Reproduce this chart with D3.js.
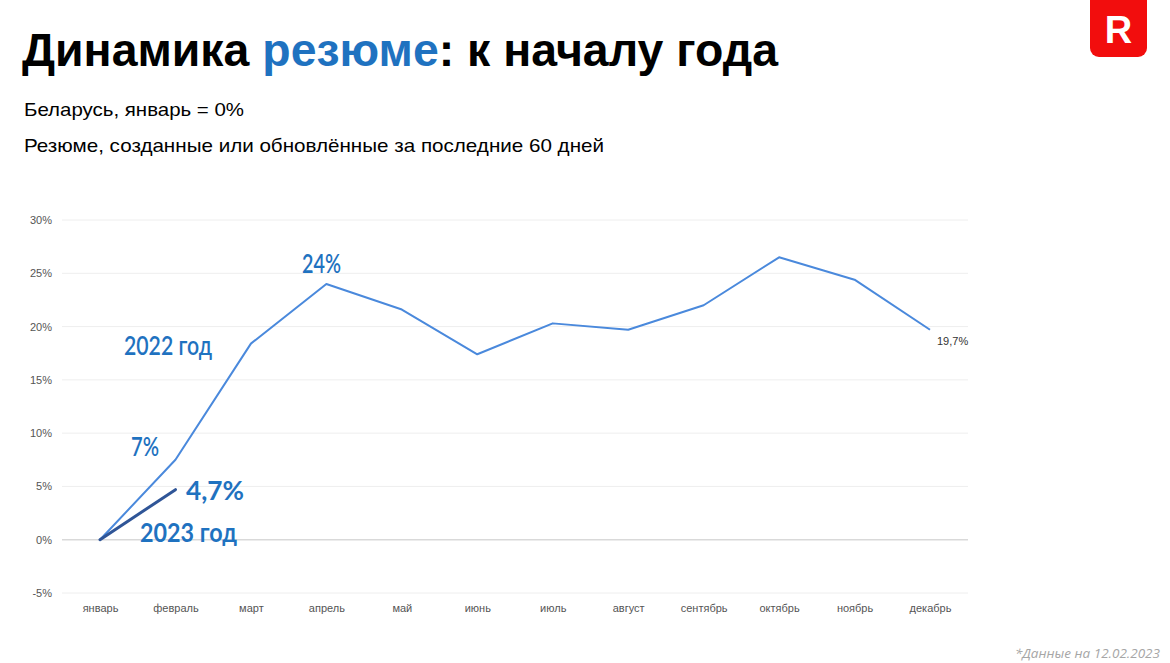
<!DOCTYPE html>
<html>
<head>
<meta charset="utf-8">
<script src="https://cdn.jsdelivr.net/npm/d3@7"></script>
<style>
  body { margin: 0; background: #fff; }
  svg { display: block; }
</style>
</head>
<body>
<div id="chart"></div>
<script>
// Данные
const months = ["январь","февраль","март","апрель","май","июнь","июль","август","сентябрь","октябрь","ноябрь","декабрь"];
const values2022 = [0, 7.5, 18.4, 24.0, 21.6, 17.4, 20.3, 19.7, 22.0, 26.5, 24.4, 19.7];
const values2023 = [0, 4.7];
const yTicks = [-5, 0, 5, 10, 15, 20, 25, 30];

const W = 1170, H = 663;
const svg = d3.select("#chart").append("svg").attr("width", W).attr("height", H);

const blue = "#1f72c0";
const fmtPct = v => v + "%";

// заголовок
const title = svg.append("text")
  .attr("x", 22).attr("y", 66)
  .attr("font-family", "Liberation Sans, Arial, sans-serif")
  .attr("font-weight", "bold").attr("font-size", 47)
  .attr("textLength", 756).attr("lengthAdjust", "spacingAndGlyphs");
title.append("tspan").attr("fill", "#000").text("Динамика ");
title.append("tspan").attr("fill", blue).text("резюме");
title.append("tspan").attr("fill", "#000").text(": к началу года");

svg.append("text").attr("x", 24).attr("y", 116)
  .attr("font-family", "Liberation Sans, Arial, sans-serif").attr("font-size", 19)
  .attr("textLength", 220).attr("lengthAdjust", "spacingAndGlyphs")
  .text("Беларусь, январь = 0%");
svg.append("text").attr("x", 24).attr("y", 152)
  .attr("font-family", "Liberation Sans, Arial, sans-serif").attr("font-size", 19)
  .attr("textLength", 580).attr("lengthAdjust", "spacingAndGlyphs")
  .text("Резюме, созданные или обновлённые за последние 60 дней");

// логотип
svg.append("rect").attr("x", 1090).attr("y", -8).attr("width", 57).attr("height", 65)
  .attr("rx", 9).attr("fill", "#f20d0d");
svg.append("text").attr("x", 1118.5).attr("y", 43).attr("text-anchor", "middle")
  .attr("font-family", "Liberation Sans, Arial, sans-serif").attr("font-weight", "bold")
  .attr("font-size", 38).attr("fill", "#fff").text("R");

// шкалы
const x = d3.scalePoint().domain(months).range([100, 930]);
const y = d3.scaleLinear().domain([-5, 30]).range([593, 220]);

// сетка
svg.append("g").selectAll("line").data(yTicks).join("line")
  .attr("x1", 62).attr("x2", 968)
  .attr("y1", d => y(d)).attr("y2", d => y(d))
  .attr("stroke", d => d === 0 ? "#d9d9d9" : "#eeeeee")
  .attr("stroke-width", d => d === 0 ? 1.5 : 1);

// ось y
svg.append("g")
  .attr("transform", "translate(52,0)")
  .call(d3.axisLeft(y).tickValues(yTicks).tickSize(0).tickPadding(0).tickFormat(fmtPct))
  .call(g => g.select(".domain").remove())
  .selectAll("text")
  .attr("font-family", "Liberation Sans, Arial, sans-serif")
  .attr("font-size", 11).attr("fill", "#555");

// ось x
svg.append("g")
  .attr("transform", "translate(0,597)")
  .call(d3.axisBottom(x).tickSize(0).tickPadding(7))
  .call(g => g.select(".domain").remove())
  .selectAll("text")
  .attr("font-family", "Liberation Sans, Arial, sans-serif")
  .attr("font-size", 11).attr("fill", "#555");

// линии
const line = d3.line().x((d, i) => x(months[i])).y(d => y(d));
svg.append("path").datum(values2022)
  .attr("d", line).attr("fill", "none")
  .attr("stroke", "#4a89dc").attr("stroke-width", 2).attr("stroke-linejoin", "round");
svg.append("path").datum(values2023)
  .attr("d", line).attr("fill", "none")
  .attr("stroke", "#2f5597").attr("stroke-width", 3).attr("stroke-linecap", "round");

// подписи
svg.append("text")
  .attr("x", x(months[11]) + 7).attr("y", y(values2022[11]) + 15)
  .attr("font-family", "Liberation Sans, Arial, sans-serif").attr("font-size", 11).attr("fill", "#333")
  .text("19,7%");

const ann = [
  { t: "24%", x: 302, y: 273, w: "normal", len: 39 },
  { t: "2022 год", x: 124, y: 355, w: "normal", len: 88 },
  { t: "7%", x: 131, y: 456, w: "normal", len: 28 },
  { t: "4,7%", x: 186, y: 500, w: "bold", len: 58 },
  { t: "2023 год", x: 140, y: 542, w: "bold", len: 97 }
];
svg.append("g").selectAll("text").data(ann).join("text")
  .attr("x", d => d.x).attr("y", d => d.y)
  .attr("font-family", "Lato, Open Sans, sans-serif")
  .attr("font-weight", d => d.w === "bold" ? 700 : 600)
  .attr("font-size", 26).attr("fill", blue)
  .attr("textLength", d => d.len).attr("lengthAdjust", "spacingAndGlyphs")
  .text(d => d.t);

// сноска
svg.append("text").attr("x", 1160).attr("y", 658).attr("text-anchor", "end")
  .attr("font-family", "Open Sans, sans-serif").attr("font-style", "italic")
  .attr("font-size", 13.5).attr("fill", "#a6a6a6")
  .text("*Данные на 12.02.2023");
</script>
</body>
</html>
